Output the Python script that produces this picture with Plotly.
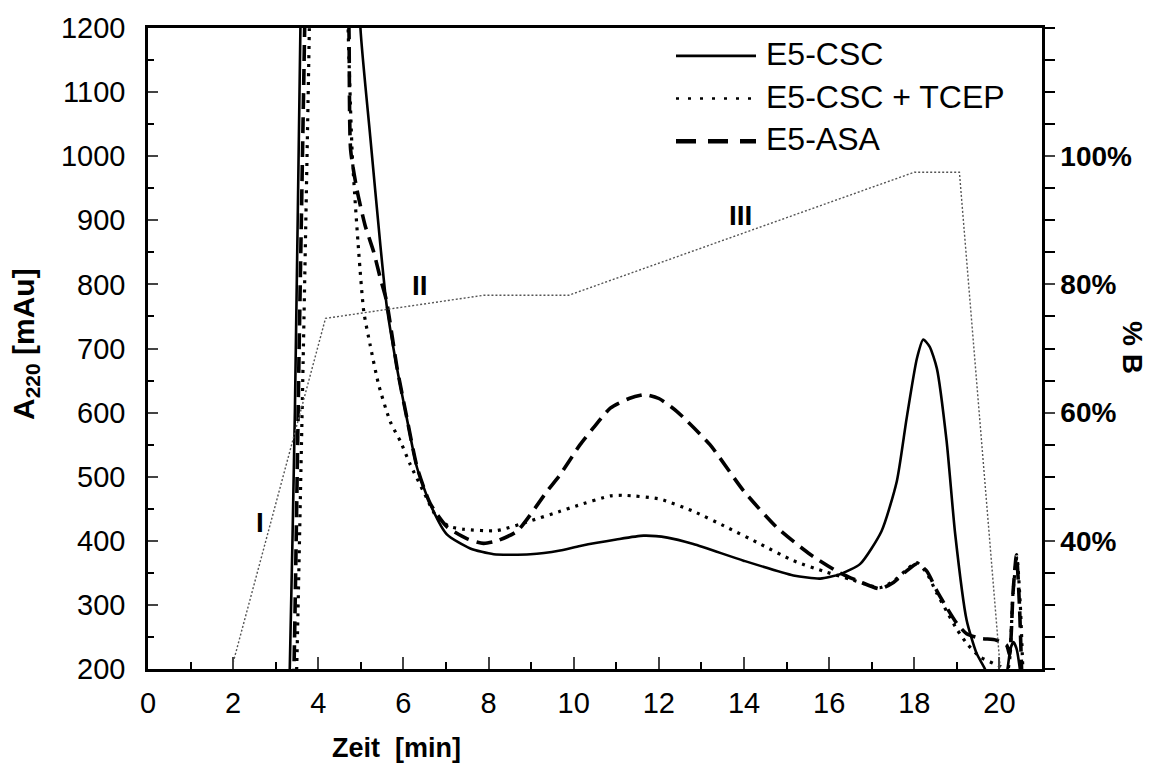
import plotly.graph_objects as go

# ---------------- data ----------------
t_csc = [3.28, 3.33, 3.45, 3.58, 3.70, 4.30, 4.90, 4.99, 5.22, 5.46, 5.61, 5.85, 6.08, 6.32,
         6.63, 7.02, 7.57, 8.12, 8.98, 9.68, 10.15, 11.00, 11.64, 12.20, 12.81, 13.99, 15.16,
         15.79, 16.26, 16.73, 17.23, 17.59, 17.82, 18.06, 18.21, 18.36, 18.53, 18.76, 18.96,
         19.23, 19.46, 19.66, 19.75, 20.10, 20.19, 20.26, 20.33, 20.40, 20.48, 20.55]
a_csc = [100, 200, 600, 1200, 1700, 2600, 1450, 1200, 1031, 860, 765, 669, 591, 514,
         457, 410, 388, 379, 379, 385, 392, 402, 408, 405, 395, 369, 346,
         341, 348, 364, 415, 493, 591, 684, 714, 703, 669, 555, 411,
         276, 225, 200, 180, 170, 200, 232, 242, 232, 200, 150]

t_tcep = [3.45, 3.50, 3.65, 3.79, 3.90, 4.25, 4.60, 4.70, 4.80, 4.95, 5.07, 5.22, 5.42, 5.69,
          5.93, 6.16, 6.47, 6.79, 7.10, 7.41, 8.20, 8.98, 9.68, 10.04, 10.86, 11.17, 12.03,
          12.81, 13.60, 14.38, 15.16, 15.94, 16.50, 17.19, 17.51, 17.82, 18.06, 18.29, 18.53,
          18.76, 19.00, 19.23, 19.54, 19.85, 20.04, 20.15, 20.24, 20.32, 20.41, 20.49, 20.55, 20.60]
a_tcep = [100, 220, 700, 1200, 1700, 2600, 1500, 1200, 1000, 850, 757, 705, 643, 586,
          555, 519, 477, 436, 422, 418, 416, 431, 446, 454, 470, 471, 465,
          446, 421, 395, 369, 351, 340, 327, 337, 355, 366, 350, 318,
          290, 262, 240, 219, 209, 203, 185, 215, 320, 375, 300, 200, 120]

t_asa = [3.38, 3.43, 3.55, 3.68, 3.80, 4.20, 4.60, 4.72, 4.76, 4.91, 5.10, 5.30, 5.46, 5.60,
         5.85, 6.08, 6.32, 6.63, 7.02, 7.50, 7.88, 8.20, 8.67, 9.37, 9.68, 10.15, 10.46,
         10.86, 11.30, 11.68, 12.00, 12.42, 13.20, 13.99, 14.77, 15.55, 16.22, 16.73, 17.19,
         17.51, 17.82, 18.06, 18.29, 18.53, 18.76, 19.00, 19.23, 19.54, 19.93, 20.17, 20.24,
         20.32, 20.40, 20.47, 20.52, 20.56]
a_asa = [100, 205, 700, 1200, 1700, 2600, 1500, 1200, 1010, 947, 892, 851, 809, 775,
         670, 592, 515, 458, 422, 403, 396, 400, 415, 477, 503, 550, 576,
         607, 622, 628, 622, 602, 550, 478, 421, 379, 351, 336, 325,
         335, 353, 364, 353, 322, 296, 271, 255, 248, 245, 237, 222,
         320, 378, 300, 200, 120]

t_grad = [2.0, 4.17, 7.88, 9.88, 18.0, 19.06, 20.02]
b_grad = [21.0, 74.7, 78.3, 78.3, 97.5, 97.5, 20.0]

x_ticks = [0, 2, 4, 6, 8, 10, 12, 14, 16, 18, 20]
y_ticks = [200, 300, 400, 500, 600, 700, 800, 900, 1000, 1100, 1200]
b_ticks = [40, 60, 80, 100]
b_labels = ["40%", "60%", "80%", "100%"]

series_names = ["E5-CSC", "E5-CSC + TCEP", "E5-ASA"]
phase_labels = ["I", "II", "III"]
phase_t = [2.62, 6.40, 13.91]
phase_a = [428, 798, 908]

# ---------------- figure ----------------
W, H = 1151, 769
L, R, T, B = 148, 109, 24, 100
FONT = "Liberation Sans, Arial, sans-serif"


def px_x(px):
    return (px - L) / (W - L - R)


def px_y(py):
    return (H - B - py) / (H - T - B)


fig = go.Figure()
fig.add_trace(go.Scatter(x=t_grad, y=b_grad, yaxis="y2", mode="lines",
                         line=dict(color="#555555", width=1.4, dash="2px,2px"),
                         showlegend=False, hoverinfo="skip"))
fig.add_trace(go.Scatter(x=t_csc, y=a_csc, mode="lines", name=series_names[0],
                         line=dict(color="black", width=2.6, shape="spline", smoothing=0.6),
                         showlegend=False))
fig.add_trace(go.Scatter(x=t_tcep, y=a_tcep, mode="lines", name=series_names[1],
                         line=dict(color="black", width=3.2, dash="3px,6px",
                                   shape="spline", smoothing=0.6),
                         showlegend=False))
fig.add_trace(go.Scatter(x=t_asa, y=a_asa, mode="lines", name=series_names[2],
                         line=dict(color="black", width=3.6, dash="16px,8px",
                                   shape="spline", smoothing=0.6),
                         showlegend=False))

# custom legend (line samples + labels)
leg_rows = [52, 95, 138]
leg_dash = ["solid", "3px,9px", "20px,12px"]
leg_width = [2.6, 2.6, 4.5]
shapes = []
annotations = []
for i, name in enumerate(series_names):
    shapes.append(dict(type="line", xref="paper", yref="paper",
                       x0=px_x(676), x1=px_x(756), y0=px_y(leg_rows[i]), y1=px_y(leg_rows[i]),
                       line=dict(color="black", width=leg_width[i], dash=leg_dash[i])))
    annotations.append(dict(xref="paper", yref="paper", x=px_x(764), y=px_y(leg_rows[i] - 2),
                            text=name, showarrow=False, xanchor="left", yanchor="middle",
                            font=dict(family=FONT, size=32, color="black")))

for lab, tx, ay in zip(phase_labels, phase_t, phase_a):
    annotations.append(dict(x=tx, y=ay, xref="x", yref="y", text="<b>" + lab + "</b>",
                            showarrow=False, xanchor="center", yanchor="middle",
                            font=dict(family=FONT, size=28, color="black")))

annotations.append(dict(xref="paper", yref="paper", x=px_x(396), y=px_y(748),
                        text="<b>Zeit  [min]</b>", showarrow=False,
                        xanchor="center", yanchor="middle",
                        font=dict(family=FONT, size=27, color="black")))
annotations.append(dict(xref="paper", yref="paper", x=px_x(25), y=px_y(342),
                        text="<b>A<sub>220</sub> [mAu]</b>", showarrow=False, textangle=-90,
                        xanchor="center", yanchor="middle",
                        font=dict(family=FONT, size=30, color="black")))
annotations.append(dict(xref="paper", yref="paper", x=px_x(1133), y=px_y(345),
                        text="<b>% B</b>", showarrow=False, textangle=90,
                        xanchor="center", yanchor="middle",
                        font=dict(family=FONT, size=28, color="black")))

fig.update_layout(
    width=W, height=H,
    margin=dict(l=L, r=R, t=T, b=B),
    paper_bgcolor="white", plot_bgcolor="white",
    font=dict(family=FONT, color="black"),
    showlegend=False,
    shapes=shapes,
    annotations=annotations,
    xaxis=dict(range=[0, 21], tickvals=x_ticks, ticks="inside", ticklen=12, tickwidth=2,
               showline=True, linewidth=2.5, linecolor="black", mirror=True,
               showgrid=False, zeroline=False, ticklabelstandoff=6,
               tickfont=dict(family=FONT, size=29),
               minor=dict(dtick=1, tick0=0, ticks="inside", ticklen=7, tickwidth=2,
                          tickcolor="black", showgrid=False)),
    yaxis=dict(range=[200, 1200], tickvals=y_ticks, ticks="inside", ticklen=10, tickwidth=2,
               showline=True, linewidth=2.5, linecolor="black",
               showgrid=False, zeroline=False, ticklabelstandoff=14,
               tickfont=dict(family=FONT, size=29),
               minor=dict(dtick=50, tick0=0, ticks="inside", ticklen=6, tickwidth=2,
                          tickcolor="black", showgrid=False)),
    yaxis2=dict(range=[20, 120], overlaying="y", side="right", tickvals=b_ticks,
                ticktext=b_labels, ticks="outside", ticklen=10, tickwidth=2,
                showline=True, linewidth=2.5, linecolor="black",
                showgrid=False, zeroline=False,
                tickfont=dict(family=FONT, size=28, weight="bold"),
                minor=dict(dtick=5, tick0=0, ticks="outside", ticklen=10, tickwidth=2,
                           tickcolor="black", showgrid=False)),
)

fig.write_html("out.html")
